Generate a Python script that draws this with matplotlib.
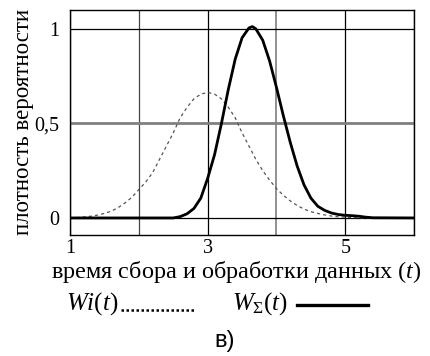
import matplotlib
matplotlib.use("Agg")
import matplotlib.pyplot as plt
from matplotlib.lines import Line2D

# Wi(t) - dashed curve
t_wi = [1.0, 1.1, 1.2, 1.3, 1.4, 1.5, 1.6, 1.7, 1.8, 1.9,
        2.0, 2.1, 2.2, 2.3, 2.4, 2.5, 2.6, 2.7, 2.8, 2.9,
        3.0, 3.1, 3.2, 3.3, 3.4, 3.5, 3.6, 3.7, 3.8, 3.9,
        4.0, 4.1, 4.2, 4.3, 4.4, 4.5, 4.6, 4.7, 4.8, 4.9,
        5.0, 5.1, 5.2, 5.3, 6.0]
w_i = [0.0, 0.002, 0.005, 0.009, 0.015, 0.024, 0.036, 0.055, 0.08, 0.11,
       0.15, 0.19, 0.24, 0.31, 0.38, 0.45, 0.53, 0.585, 0.63, 0.655,
       0.664, 0.655, 0.63, 0.585, 0.53, 0.45, 0.38, 0.31, 0.25, 0.20,
       0.155, 0.12, 0.09, 0.066, 0.047, 0.033, 0.024, 0.016, 0.010, 0.006,
       0.004, 0.002, 0.001, 0.0, 0.0]

# W_sigma(t) - solid curve
t_ws = [1.0, 2.5, 2.6, 2.7, 2.8, 2.9, 3.0, 3.1, 3.2, 3.3, 3.4, 3.5,
        3.6, 3.65, 3.7, 3.8, 3.9, 4.0, 4.1, 4.2, 4.3, 4.4, 4.5, 4.6,
        4.7, 4.8, 4.9, 5.0, 5.1, 5.2, 5.3, 5.4, 6.0]
w_s = [0.0, 0.0, 0.007, 0.022, 0.05, 0.105, 0.21, 0.335, 0.50, 0.68, 0.84, 0.953,
       1.005, 1.012, 1.0, 0.94, 0.83, 0.69, 0.54, 0.40, 0.275, 0.175, 0.105, 0.062,
       0.04, 0.026, 0.018, 0.014, 0.012, 0.009, 0.004, 0.001, 0.0]

x_ticks = [1, 2, 3, 4, 5, 6]
x_labels = ["1", "", "3", "", "5", ""]
y_ticks = [0, 0.5, 1]
y_labels = ["0", "0,5", "1"]

plt.rcParams["font.family"] = ["Liberation Serif", "DejaVu Serif"]
plt.rcParams["mathtext.fontset"] = "custom"
plt.rcParams["mathtext.rm"] = "Liberation Serif"
plt.rcParams["mathtext.it"] = "Liberation Serif:italic"

fig = plt.figure(figsize=(4.3, 3.56), dpi=100)
ax = fig.add_axes([0.163, 0.34, 0.8, 0.632])

ax.plot(t_wi, w_i, color="#555555", lw=0.9, linestyle=(0, (2.5, 2.5)))
ax.plot(t_ws, w_s, color="black", lw=2.0)

ax.set_xlim(1, 6)
ax.set_ylim(-0.09, 1.1)
ax.set_xticks(x_ticks)
ax.set_xticklabels(x_labels)
ax.set_yticks(y_ticks)
ax.set_yticklabels(y_labels)
ax.tick_params(length=0, labelsize=14.5, pad=3)
ax.tick_params(axis="y", pad=8)

ax.grid(True, color="black", lw=0.9)
ax.set_axisbelow(True)
ygl = ax.get_ygridlines()
ygl[1].set_color("#808080")
ygl[1].set_linewidth(2.0)
xgl = ax.get_xgridlines()
xgl[1].set_color("#444444")
xgl[3].set_color("#888888")
xgl[3].set_linewidth(1.3)
for s in ax.spines.values():
    s.set_linewidth(1.0)

fig.text(0.549, 0.236, "время сбора и обработки данных ($t$)", fontsize=17.5,
         ha="center", va="center")
fig.text(0.055, 0.657, "плотность вероятности", rotation=90, fontsize=16.5,
         ha="center", va="center")

# legend row
fig.text(0.276, 0.146, "$Wi(t)$", fontsize=18, ha="right", va="center")
fig.add_artist(Line2D([0.281, 0.453], [0.128, 0.128], transform=fig.transFigure,
                      color="black", lw=1.8, linestyle=(0, (1, 1))))
fig.text(0.540, 0.146, r"$W_{\Sigma}(t)$", fontsize=18, ha="left", va="center")
fig.add_artist(Line2D([0.690, 0.856], [0.144, 0.144], transform=fig.transFigure,
                      color="black", lw=2.4))

fig.text(0.523, 0.042, "в)", fontsize=17, family="Liberation Sans",
         ha="center", va="center")

fig.savefig("out.png", dpi=100)
